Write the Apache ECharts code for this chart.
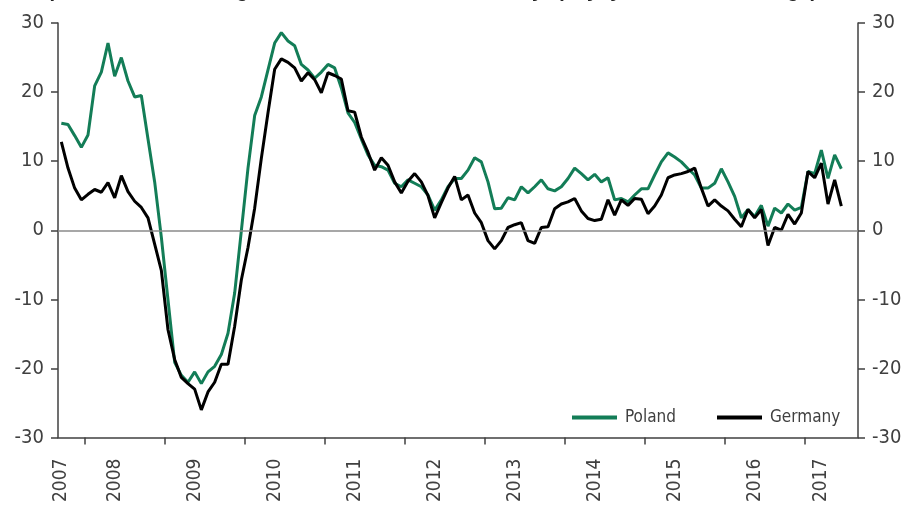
<!DOCTYPE html>
<html>
<head>
<meta charset="utf-8">
<script src="https://cdn.jsdelivr.net/npm/echarts@6/dist/echarts.min.js"></script>
<style>
  html, body {margin: 0; background: #fff;}
  #chart {width: 912px; height: 505px;}
</style>
</head>
<body>
<div id="chart"></div>
<script>
// monthly, Sep 2007 .. Aug 2017 (axis), data until Jun 2017
const startYear = 2007;
const startMonth = 9;
const monthCount = 120;
const months = [];
for (let i = 0; i < monthCount; i++) {
  const m = startMonth - 1 + i;
  const y = startYear + Math.floor(m / 12);
  months.push(y + '-' + String(m % 12 + 1).padStart(2, '0'));
}
// boundaries between months, used only for the year ticks
const bounds = months.concat(['2017-09']);

const poland = [
  15.5, 15.3, 13.7, 12.0, 13.8, 20.9, 22.9, 27.1, 22.3, 25.0,
  21.6, 19.3, 19.5, 13.2, 7.0, -1.0, -10.1, -19.1, -21.0, -22.0,
  -20.5, -22.2, -20.5, -19.7, -18.0, -14.9, -9.1, -0.1, 9.0, 16.6,
  19.3, 23.2, 27.1, 28.6, 27.4, 26.7, 24.0, 23.2, 22.0, 22.9,
  24.0, 23.5, 20.6, 17.0, 15.6, 13.2, 10.9, 9.4, 9.2, 8.7,
  6.8, 6.3, 7.3, 6.8, 6.3, 5.1, 2.9, 4.4, 6.3, 7.5,
  7.5, 8.7, 10.5, 9.9, 7.0, 3.1, 3.2, 4.7, 4.4, 6.3,
  5.4, 6.3, 7.3, 6.0, 5.7, 6.3, 7.5, 9.0, 8.2, 7.3,
  8.1, 7.0, 7.6, 4.4, 4.6, 4.1, 5.1, 6.0, 6.0, 8.0,
  9.9, 11.2, 10.6, 9.9, 8.9, 8.0, 6.1, 6.1, 6.8, 8.9,
  7.0, 4.9, 1.8, 3.0, 2.0, 3.6, 0.6, 3.2, 2.5, 3.8,
  2.9, 3.3, 8.5, 8.2, 11.6, 7.5, 10.9, 8.9
];
const germany = [
  12.8, 9.0, 6.1, 4.4, 5.2, 5.9, 5.5, 6.9, 4.7, 7.9,
  5.6, 4.2, 3.3, 1.8, -2.0, -5.8, -14.4, -18.7, -21.3, -22.2,
  -23.0, -26.0, -23.4, -22.0, -19.4, -19.4, -13.9, -7.2, -2.5, 3.2,
  10.4, 17.0, 23.3, 24.8, 24.3, 23.5, 21.6, 22.8, 21.8, 19.9,
  22.8, 22.4, 21.9, 17.3, 17.1, 13.5, 11.3, 8.7, 10.5, 9.4,
  7.0, 5.4, 7.1, 8.2, 7.0, 5.0, 1.8, 4.0, 6.1, 7.8,
  4.4, 5.1, 2.5, 1.1, -1.5, -2.7, -1.5, 0.4, 0.8, 1.1,
  -1.5, -1.9, 0.4, 0.5, 3.1, 3.8, 4.1, 4.6, 2.8, 1.7,
  1.4, 1.6, 4.4, 2.2, 4.4, 3.6, 4.6, 4.5, 2.4, 3.5,
  5.1, 7.6, 8.0, 8.2, 8.5, 9.0, 6.1, 3.5, 4.4, 3.5,
  2.8, 1.6, 0.5, 3.0, 1.8, 3.0, -2.2, 0.4, 0.0, 2.3,
  0.9, 2.5, 8.5, 7.6, 9.7, 3.8, 7.3, 3.5
];
const yTicks = [-30, -20, -10, 0, 10, 20, 30];

const NARROW = "'Liberation Sans Narrow', 'Arial Narrow', 'DejaVu Sans Condensed', sans-serif";
const TEXT = '#404040';
const AXIS = '#404040';

// year label sits a bit left of the middle of the visible part of each year
const labelAt = {};
for (let y = startYear; y <= 2017; y++) {
  const from = Math.max(0, (y - startYear) * 12 - (startMonth - 1));
  const to = Math.min(monthCount, (y - startYear + 1) * 12 - (startMonth - 1));
  labelAt[Math.round((from + to) / 2 - 1.73)] = String(y);
}

const chart = echarts.init(document.getElementById('chart'));
chart.setOption({
  animation: false,
  grid: {left: 58, right: 54, top: 23, bottom: 62},
  graphic: [
    {type: 'text', right: 369, top: -19,
      style: {text: 'Output in manufacturing sector in Poland and Germany', fill: '#222', font: 'bold 20px Liberation Sans'}},
    {type: 'text', left: 557, top: -19,
      style: {text: '(% yoy in 3-month average)', fill: '#222', font: 'bold 20px Liberation Sans'}}
  ],
  legend: {
    left: 567, top: 404,
    icon: 'rect', itemWidth: 45, itemHeight: 4, itemGap: 41,
    textStyle: {fontSize: 17, fontFamily: NARROW, color: TEXT, padding: [0, 0, 0, 3]},
    data: ['Poland', 'Germany']
  },
  xAxis: [
    {
      type: 'category',
      data: months,
      boundaryGap: true,
      axisLine: {onZero: false, lineStyle: {color: AXIS, width: 1.5}},
      axisTick: {show: false},
      axisLabel: {
        rotate: 90, margin: 21, fontSize: 19, fontFamily: NARROW, color: TEXT,
        interval: (i) => labelAt[i] !== undefined,
        formatter: (v, i) => labelAt[i] || ''
      },
      splitLine: {show: false}
    },
    {
      type: 'category',
      data: bounds,
      boundaryGap: false,
      position: 'bottom',
      axisLine: {show: false, onZero: false},
      axisTick: {
        length: 7, lineStyle: {color: AXIS, width: 1.5},
        interval: (i, v) => v.endsWith('-01')
      },
      axisLabel: {show: false},
      splitLine: {show: false}
    }
  ],
  yAxis: [0, 1].map(k => ({
    type: 'value',
    position: k ? 'right' : 'left',
    min: yTicks[0], max: yTicks[yTicks.length - 1], interval: 10,
    axisLine: {show: true, lineStyle: {color: AXIS, width: 1.5}},
    axisTick: {show: true, length: 7, lineStyle: {color: AXIS, width: 1.5}},
    axisLabel: {fontSize: 20, fontFamily: NARROW, color: TEXT, margin: 14},
    splitLine: {show: false}
  })),
  series: [
    {
      name: 'Poland', type: 'line', data: poland,
      symbol: 'none', color: '#137d57',
      lineStyle: {width: 3},
      markLine: {
        silent: true, symbol: 'none', label: {show: false},
        lineStyle: {color: '#8a8a8a', width: 1.5, type: 'solid'},
        data: [{yAxis: 0}]
      },
      z: 2
    },
    {
      name: 'Germany', type: 'line', data: germany,
      symbol: 'none', color: '#000000',
      lineStyle: {width: 3},
      z: 3
    }
  ]
});
</script>
</body>
</html>
